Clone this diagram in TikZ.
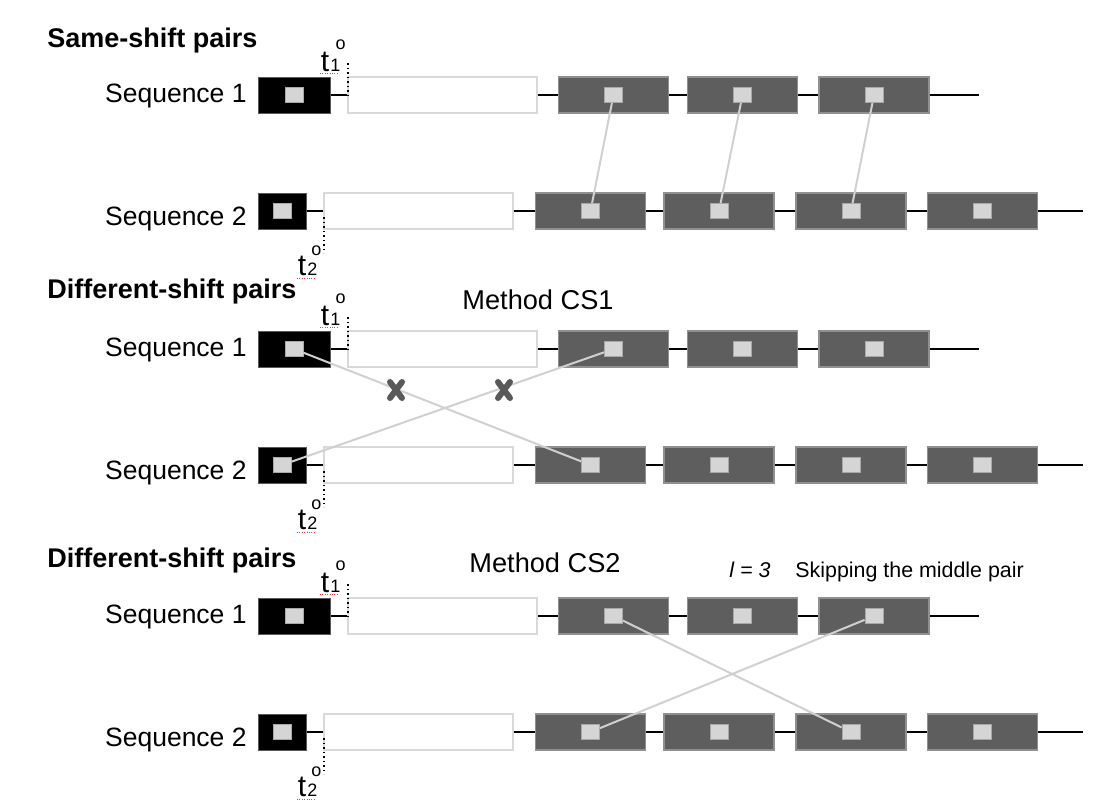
\documentclass[tikz,border=0pt]{standalone}
\usepackage{fontspec}
\setmainfont{Liberation Sans}
\usepackage{tikz}

\definecolor{shiftgray}{HTML}{5E5E5E}
\definecolor{shiftedge}{HTML}{909090}
\definecolor{sqfill}{HTML}{D5D5D5}
\definecolor{sqedge}{HTML}{A8A8A8}
\definecolor{boxline}{HTML}{D9D9D9}
\definecolor{pairgray}{HTML}{D0D0D0}
\definecolor{crossgray}{HTML}{595959}

\begin{document}
\begin{tikzpicture}[x=0.5pt, y=-0.5pt,
    seqlab/.style={font=\fontsize{13.25}{16}\selectfont, inner sep=0pt, anchor=base east},
    head/.style={font=\bfseries\fontsize{13.5}{16}\selectfont, inner sep=0pt, anchor=base west},
    method/.style={font=\fontsize{13.6}{16}\selectfont, inner sep=0pt, anchor=base west},
    note/.style={font=\fontsize{10.7}{13}\selectfont, inner sep=0pt, anchor=base west},
    startbox/.style={draw=black!65, line width=0.5pt, fill=black, minimum height=18pt, inner sep=0pt},
    gapbox/.style={draw=boxline, line width=0.8pt, fill=white, minimum width=94.5pt, minimum height=18pt, inner sep=0pt},
    shiftbox/.style={draw=shiftedge, line width=0.6pt, fill=shiftgray, minimum width=55pt, minimum height=18pt, inner sep=0pt},
    sq/.style={draw=sqedge, line width=0.4pt, fill=sqfill, minimum width=9pt, minimum height=7.5pt, inner sep=0pt},
    bond/.style={line width=1pt, black},
    pairline/.style={line width=1pt, pairgray},
    tick/.style={line width=0.8pt, dash pattern=on 0.8pt off 1.45pt},
    spell/.style={red!80, line width=0.6pt, dash pattern=on 0.5pt off 0.7pt},
    tlab/.style={font=\fontsize{15}{17}\selectfont, inner sep=0pt, anchor=base west},
    deg/.style={font=\fontsize{9}{10}\selectfont, inner sep=0pt},
    cross/.style={line width=3pt, crossgray, line cap=round}
  ]
  \useasboundingbox (0,0) rectangle (1101,811);

  % three panels, same rows
  \foreach \p/\dy in {a/0, b/254, c/521}{
    % sequence 1
    \node[startbox, minimum width=36pt] (k1\p) at (294,95+\dy) {};
    \node[sq] (q1\p0) at (k1\p) {};
    \node[gapbox] (w1\p) at (442.5,95+\dy) {};
    \foreach \i/\x in {1/613.5, 2/742.5, 3/874}{
      \node[shiftbox] (g1\p\i) at (\x,95+\dy) {};
      \node[sq] (q1\p\i) at (g1\p\i) {};
    }
    \coordinate (e1\p) at (979,95+\dy);
    \draw[bond] (k1\p) -- (w1\p) (w1\p) -- (g1\p1) (g1\p1) -- (g1\p2)
                (g1\p2) -- (g1\p3) (g1\p3.east) -- (e1\p);
    \node[seqlab] (n1\p) at (247,102+\dy) {Sequence 1};
    % t1 mark
    \node[tlab] (t1\p) at (320.5,71+\dy) {t\kern0.6pt{\fontsize{9}{10}\selectfont 1}};
    \node[deg] (o1\p) at (340.5,45+\dy) {o};
    \draw[spell] (320,73.5+\dy) -- (338,73.5+\dy);
    \draw[tick] (348,63+\dy) -- (348,98+\dy);

    % sequence 2
    \node[startbox, minimum width=24pt] (k2\p) at (282,211+\dy) {};
    \node[sq] (q2\p0) at (k2\p) {};
    \node[gapbox] (w2\p) at (418.5,211+\dy) {};
    \foreach \i/\x in {1/590.5, 2/719, 3/851, 4/982.5}{
      \node[shiftbox] (g2\p\i) at (\x,211+\dy) {};
      \node[sq] (q2\p\i) at (g2\p\i) {};
    }
    \coordinate (e2\p) at (1083,211+\dy);
    \draw[bond] (k2\p) -- (w2\p) (w2\p) -- (g2\p1) (g2\p1) -- (g2\p2)
                (g2\p2) -- (g2\p3) (g2\p3) -- (g2\p4) (g2\p4.east) -- (e2\p);
    \node[seqlab] (n2\p) at (247,225+\dy) {Sequence 2};
    % t2 mark
    \node[tlab] (t2\p) at (297.5,275+\dy) {t\kern0.6pt{\fontsize{9}{10}\selectfont 2}};
    \node[deg] (o2\p) at (316.5,251+\dy) {o};
    \draw[spell] (297,278.5+\dy) -- (315,278.5+\dy);
    \draw[tick] (324,217+\dy) -- (324,253+\dy);
  }

  % headings
  \node[head] (ha) at (47,47) {Same-shift pairs};
  \node[head] (hb) at (47,298) {Different-shift pairs};
  \node[head] (hc) at (47,567) {Different-shift pairs};
  \node[method] (mb) at (462,309) {Method CS1};
  \node[method] (mc) at (469,572) {Method CS2};
  \node[note] (lc) at (729,577) {\itshape l = 3};
  \node[note] (sc) at (795,577) {Skipping the middle pair};

  % pairs
  \draw[pairline] (q1a1) -- (q2a1);
  \draw[pairline] (q1a2) -- (q2a2);
  \draw[pairline] (q1a3) -- (q2a3);
  \draw[pairline] (q1b0) -- (q2b1);
  \draw[pairline] (q1b1) -- (q2b0);
  \draw[pairline] (q1c1) -- (q2c3);
  \draw[pairline] (q1c3) -- (q2c1);

  % rejected pairs
  \coordinate (xl) at (396,390);
  \coordinate (xr) at (504,390);
  \foreach \c in {xl, xr}
    \draw[cross] ([shift={(-6,-8)}]\c) -- ([shift={(6,8)}]\c)
                 ([shift={(-6,8)}]\c) -- ([shift={(6,-8)}]\c);
\end{tikzpicture}
\end{document}
